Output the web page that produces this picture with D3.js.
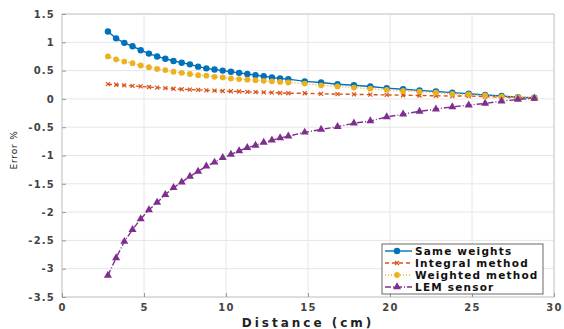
<!DOCTYPE html>
<html>
<head>
<meta charset="utf-8">
<script src="https://cdn.jsdelivr.net/npm/d3@7"></script>
<style>
  body { margin: 0; background: #fff; }
  text { font-family: "DejaVu Sans", "Liberation Sans", Arial, sans-serif; }
</style>
</head>
<body>
<svg width="564" height="329"></svg>
<script>
// distances (cm)
const distance = [2.8, 3.3, 3.8, 4.3, 4.8, 5.3, 5.8, 6.3, 6.8, 7.3, 7.8, 8.3, 8.8, 9.3, 9.8,
  10.3, 10.8, 11.3, 11.8, 12.3, 12.8, 13.3, 13.8,
  14.8, 15.8, 16.8, 17.8, 18.8, 19.8, 20.8, 21.8, 22.8, 23.8, 24.8, 25.8, 26.8, 27.8, 28.8]

const sameWeights = [1.19, 1.07, 0.99, 0.93, 0.86, 0.80, 0.75, 0.71, 0.67, 0.64, 0.61, 0.57, 0.54, 0.52, 0.50,
  0.48, 0.46, 0.44, 0.42, 0.40, 0.38, 0.36, 0.35,
  0.31, 0.29, 0.26, 0.24, 0.22, 0.19, 0.17, 0.15, 0.13, 0.11, 0.09, 0.07, 0.05, 0.03, 0.02]

const integralMethod = [0.26, 0.25, 0.24, 0.23, 0.22, 0.21, 0.20, 0.19, 0.18, 0.17, 0.165, 0.16, 0.15, 0.145, 0.14,
  0.135, 0.13, 0.125, 0.12, 0.115, 0.11, 0.105, 0.10,
  0.10, 0.09, 0.085, 0.08, 0.075, 0.07, 0.065, 0.06, 0.055, 0.05, 0.05, 0.04, 0.03, 0.02, 0.01]

const weightedMethod = [0.75, 0.70, 0.66, 0.63, 0.59, 0.56, 0.53, 0.51, 0.48, 0.46, 0.44, 0.42, 0.41, 0.39, 0.38,
  0.36, 0.35, 0.34, 0.33, 0.32, 0.31, 0.30, 0.29,
  0.27, 0.24, 0.22, 0.20, 0.18, 0.16, 0.14, 0.13, 0.11, 0.09, 0.08, 0.06, 0.04, 0.03, 0.02]

const lemSensor = [-3.12, -2.81, -2.52, -2.31, -2.12, -1.96, -1.83, -1.69, -1.57, -1.47, -1.37, -1.28, -1.19, -1.12, -1.04,
  -0.98, -0.92, -0.86, -0.82, -0.77, -0.73, -0.69, -0.66,
  -0.59, -0.54, -0.49, -0.43, -0.39, -0.32, -0.27, -0.22, -0.18, -0.14, -0.11, -0.08, -0.04, -0.01, 0.01]

const xTicks = [0, 5, 10, 15, 20, 25, 30]
const yTicks = [1.5, 1, 0.5, 0, -0.5, -1, -1.5, -2, -2.5, -3, -3.5]

const series = [
  {name: 'Same weights', values: sameWeights, color: '#0072BD', dash: null, marker: 'circle'},
  {name: 'Integral method', values: integralMethod, color: '#D95319', dash: '4,3', marker: 'cross'},
  {name: 'Weighted method', values: weightedMethod, color: '#EDB120', dash: '1,2', marker: 'dot'},
  {name: 'LEM sensor', values: lemSensor, color: '#7E2F8E', dash: '6,2,1,2', marker: 'triangle'}
]

const margin = {top: 14, right: 10, bottom: 32, left: 62}
const width = 564
const height = 329

const x = d3.scaleLinear().domain([0, 30]).range([margin.left, width - margin.right])
const y = d3.scaleLinear().domain([-3.5, 1.5]).range([height - margin.bottom, margin.top])

const svg = d3.select('svg')

// grid
svg.append('g')
  .selectAll('line')
  .data(xTicks)
  .join('line')
  .attr('x1', d => x(d)).attr('x2', d => x(d))
  .attr('y1', margin.top).attr('y2', height - margin.bottom)
  .attr('stroke', '#e6e6e6')
svg.append('g')
  .selectAll('line')
  .data(yTicks)
  .join('line')
  .attr('x1', margin.left).attr('x2', width - margin.right)
  .attr('y1', d => y(d)).attr('y2', d => y(d))
  .attr('stroke', '#e6e6e6')

// box
svg.append('rect')
  .attr('x', margin.left).attr('y', margin.top)
  .attr('width', width - margin.left - margin.right)
  .attr('height', height - margin.top - margin.bottom)
  .attr('fill', 'none').attr('stroke', '#c8c8c8')

const xAxis = g => g
  .attr('transform', `translate(0, ${height - margin.bottom})`)
  .call(d3.axisBottom(x).tickValues(xTicks).tickSize(-4).tickPadding(7).tickFormat(d3.format('d')))
  .call(g => g.select('.domain').remove())

const yAxis = g => g
  .attr('transform', `translate(${margin.left}, 0)`)
  .call(d3.axisLeft(y).tickValues(yTicks).tickSize(-4).tickPadding(7).tickFormat(d => d))
  .call(g => g.select('.domain').remove())

svg.append('g').attr('class', 'x-axis').call(xAxis)
svg.append('g').attr('class', 'y-axis').call(yAxis)
svg.selectAll('.tick line').attr('stroke', '#999')
svg.selectAll('.tick text')
  .attr('fill', '#444')
  .style('font-family', '"DejaVu Sans", sans-serif')
  .style('font-size', '10px')
  .style('font-weight', 'bold')
  .style('letter-spacing', '1.2px')

// axis labels
svg.append('text')
  .attr('x', x(15)).attr('y', 327)
  .attr('text-anchor', 'middle')
  .style('font-size', '12px').style('font-weight', 'bold')
  .style('letter-spacing', '3px')
  .attr('fill', '#222')
  .text('Distance (cm)')
svg.append('text')
  .attr('transform', 'translate(17, 150) rotate(-90)')
  .attr('text-anchor', 'middle')
  .style('font-size', '9px')
  .style('letter-spacing', '0.8px')
  .attr('fill', '#222')
  .text('Error %')

const line = d3.line().x((d, i) => x(distance[i])).y(d => y(d))

function drawMarker(g, type, color, cx, cy) {
  if (type === 'circle') {
    g.append('circle').attr('cx', cx).attr('cy', cy).attr('r', 3.2).attr('fill', color)
  } else if (type === 'dot') {
    g.append('circle').attr('cx', cx).attr('cy', cy).attr('r', 2.9).attr('fill', color)
  } else if (type === 'cross') {
    g.append('path')
      .attr('d', `M${cx - 2},${cy - 2}L${cx + 2},${cy + 2}M${cx - 2},${cy + 2}L${cx + 2},${cy - 2}`)
      .attr('stroke', color).attr('stroke-width', 1.2)
  } else {
    g.append('path')
      .attr('d', d3.symbol(d3.symbolTriangle, 28)())
      .attr('transform', `translate(${cx},${cy})`)
      .attr('fill', color)
  }
}

const marks = svg.append('g').attr('class', 'series')
series.forEach(s => {
  const g = marks.append('g')
  g.append('path')
    .datum(s.values)
    .attr('d', line)
    .attr('fill', 'none')
    .attr('stroke', s.color)
    .attr('stroke-width', 1.4)
    .attr('stroke-dasharray', s.dash)
  s.values.forEach((v, i) => drawMarker(g, s.marker, s.color, x(distance[i]), y(v)))
})

// legend
const lg = svg.append('g').attr('transform', 'translate(382, 244)')
lg.append('rect')
  .attr('width', 161).attr('height', 50)
  .attr('fill', '#fff').attr('stroke', '#444').attr('stroke-width', 0.8)
series.forEach((s, i) => {
  const yy = 7 + i * 12
  const row = lg.append('g')
  row.append('line')
    .attr('x1', 3).attr('x2', 30).attr('y1', yy).attr('y2', yy)
    .attr('stroke', s.color).attr('stroke-width', 1.4)
    .attr('stroke-dasharray', s.dash)
  drawMarker(row, s.marker, s.color, 15, yy)
  row.append('text')
    .attr('x', 33).attr('y', yy + 3.5)
    .style('font-size', '10.5px').style('font-weight', 'bold')
    .style('letter-spacing', '1.2px')
    .attr('fill', '#111')
    .text(s.name)
})
</script>
</body>
</html>
